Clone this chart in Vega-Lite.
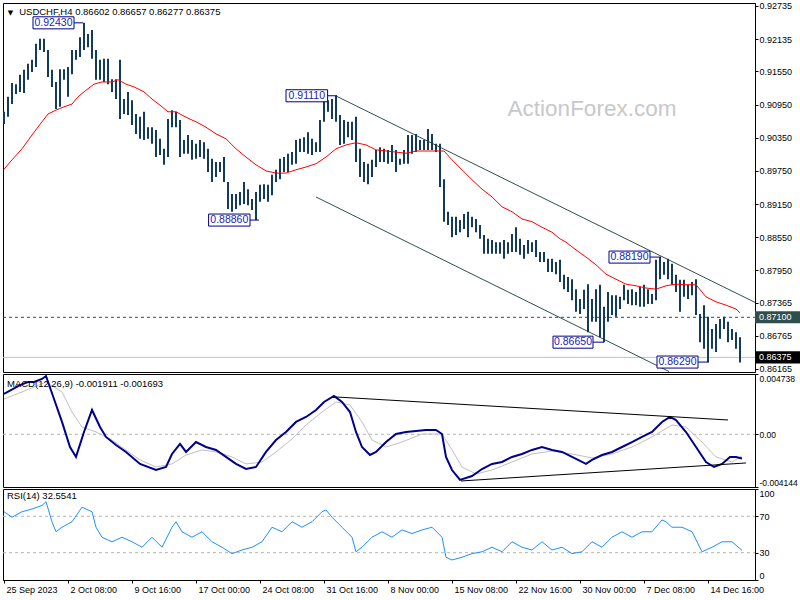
{
"$schema": "https://vega.github.io/schema/vega-lite/v6.json",
"background": "white",
"padding": {"left": -1, "top": 1, "right": 0, "bottom": 0},
"spacing": 2,
"bounds": "flush",
"config": {
  "view": {"stroke": "#000000", "strokeWidth": 1},
  "axis": {"labelFont": "Liberation Sans", "labelFontSize": 9, "labelColor": "#000000", "domainColor": "#000000", "tickColor": "#000000", "tickSize": 3, "grid": false, "labelPadding": 1},
  "text": {"font": "Liberation Sans"}
},
"datasets": {
"bars": [
{"i":0,"p":0.9082,"p2":0.9060},{"i":2,"p":0.9109,"p2":0.9073},{"i":4,"p":0.9134,"p2":0.9096},{"i":6,"p":0.9132,"p2":0.9114},{"i":8,"p":0.9149,"p2":0.9118},{"i":10,"p":0.9158,"p2":0.9116},{"i":12,"p":0.9169,"p2":0.9140},{"i":14,"p":0.9176,"p2":0.9154},{"i":16,"p":0.9205,"p2":0.9163},{"i":18,"p":0.9214,"p2":0.9194},
{"i":20,"p":0.9214,"p2":0.9190},{"i":22,"p":0.9194,"p2":0.9145},{"i":24,"p":0.9158,"p2":0.9127},{"i":26,"p":0.9136,"p2":0.9087},{"i":28,"p":0.9159,"p2":0.9091},{"i":30,"p":0.9159,"p2":0.9140},{"i":32,"p":0.9163,"p2":0.9109},{"i":34,"p":0.9194,"p2":0.9150},{"i":36,"p":0.9194,"p2":0.9176},{"i":38,"p":0.9217,"p2":0.9181},
{"i":40,"p":0.9243,"p2":0.9194},{"i":42,"p":0.9223,"p2":0.9199},{"i":44,"p":0.9230,"p2":0.9178},{"i":46,"p":0.9194,"p2":0.9140},{"i":48,"p":0.9176,"p2":0.9140},{"i":50,"p":0.9178,"p2":0.9136},{"i":52,"p":0.9178,"p2":0.9132},{"i":54,"p":0.9141,"p2":0.9118},{"i":56,"p":0.9141,"p2":0.9105},{"i":58,"p":0.9176,"p2":0.9069},
{"i":60,"p":0.9105,"p2":0.9078},{"i":62,"p":0.9118,"p2":0.9076},{"i":64,"p":0.9103,"p2":0.9058},{"i":66,"p":0.9078,"p2":0.9042},{"i":68,"p":0.9073,"p2":0.9033},{"i":70,"p":0.9082,"p2":0.9031},{"i":72,"p":0.9054,"p2":0.9033},{"i":74,"p":0.9054,"p2":0.9024},{"i":76,"p":0.9049,"p2":0.9000},{"i":78,"p":0.9033,"p2":0.9004},
{"i":80,"p":0.9015,"p2":0.8986},{"i":82,"p":0.9069,"p2":0.9000},{"i":84,"p":0.9085,"p2":0.9054},{"i":86,"p":0.9082,"p2":0.9054},{"i":88,"p":0.9067,"p2":0.9000},{"i":90,"p":0.9031,"p2":0.9006},{"i":92,"p":0.9040,"p2":0.9006},{"i":94,"p":0.9031,"p2":0.8995},{"i":96,"p":0.9024,"p2":0.8997},{"i":98,"p":0.9031,"p2":0.9000},
{"i":100,"p":0.9027,"p2":0.8997},{"i":102,"p":0.9015,"p2":0.8973},{"i":104,"p":0.8997,"p2":0.8955},{"i":106,"p":0.8991,"p2":0.8964},{"i":108,"p":0.8991,"p2":0.8973},{"i":110,"p":0.9000,"p2":0.8955},{"i":112,"p":0.8955,"p2":0.8906},{"i":114,"p":0.8933,"p2":0.8901},{"i":116,"p":0.8933,"p2":0.8906},{"i":118,"p":0.8937,"p2":0.8913},
{"i":120,"p":0.8955,"p2":0.8915},{"i":122,"p":0.8942,"p2":0.8913},{"i":124,"p":0.8924,"p2":0.8904},{"i":126,"p":0.8937,"p2":0.8886},{"i":128,"p":0.8950,"p2":0.8919},{"i":130,"p":0.8951,"p2":0.8924},{"i":132,"p":0.8950,"p2":0.8919},{"i":134,"p":0.8968,"p2":0.8931},{"i":136,"p":0.8977,"p2":0.8955},{"i":138,"p":0.8997,"p2":0.8960},
{"i":140,"p":0.9000,"p2":0.8973},{"i":142,"p":0.9006,"p2":0.8973},{"i":144,"p":0.9009,"p2":0.8986},{"i":146,"p":0.9031,"p2":0.8988},{"i":148,"p":0.9033,"p2":0.9009},{"i":150,"p":0.9036,"p2":0.9009},{"i":152,"p":0.9045,"p2":0.9006},{"i":154,"p":0.9033,"p2":0.9004},{"i":156,"p":0.9027,"p2":0.9009},{"i":158,"p":0.9067,"p2":0.9009},
{"i":160,"p":0.9109,"p2":0.9064},{"i":162,"p":0.9103,"p2":0.9082},{"i":164,"p":0.9105,"p2":0.9069},{"i":166,"p":0.9111,"p2":0.9064},{"i":168,"p":0.9076,"p2":0.9022},{"i":170,"p":0.9067,"p2":0.9024},{"i":172,"p":0.9064,"p2":0.9036},{"i":174,"p":0.9064,"p2":0.9031},{"i":176,"p":0.9073,"p2":0.8991},{"i":178,"p":0.9015,"p2":0.8964},
{"i":180,"p":0.8991,"p2":0.8955},{"i":182,"p":0.8988,"p2":0.8951},{"i":184,"p":0.8995,"p2":0.8964},{"i":186,"p":0.9013,"p2":0.8982},{"i":188,"p":0.9018,"p2":0.8991},{"i":190,"p":0.9015,"p2":0.8991},{"i":192,"p":0.9013,"p2":0.8988},{"i":194,"p":0.9022,"p2":0.8991},{"i":196,"p":0.9013,"p2":0.8973},{"i":198,"p":0.8997,"p2":0.8986},
{"i":200,"p":0.9013,"p2":0.8988},{"i":202,"p":0.9040,"p2":0.8988},{"i":204,"p":0.9040,"p2":0.9006},{"i":206,"p":0.9042,"p2":0.9009},{"i":208,"p":0.9031,"p2":0.9013},{"i":210,"p":0.9031,"p2":0.9013},{"i":212,"p":0.9051,"p2":0.9013},{"i":214,"p":0.9042,"p2":0.9013},{"i":216,"p":0.9024,"p2":0.9009},{"i":218,"p":0.9024,"p2":0.8946},
{"i":220,"p":0.8960,"p2":0.8883},{"i":222,"p":0.8901,"p2":0.8877},{"i":224,"p":0.8892,"p2":0.8855},{"i":226,"p":0.8892,"p2":0.8859},{"i":228,"p":0.8886,"p2":0.8864},{"i":230,"p":0.8897,"p2":0.8870},{"i":232,"p":0.8901,"p2":0.8855},{"i":234,"p":0.8892,"p2":0.8873},{"i":236,"p":0.8888,"p2":0.8864},{"i":238,"p":0.8877,"p2":0.8852},
{"i":240,"p":0.8859,"p2":0.8825},{"i":242,"p":0.8852,"p2":0.8825},{"i":244,"p":0.8850,"p2":0.8825},{"i":246,"p":0.8846,"p2":0.8825},{"i":248,"p":0.8846,"p2":0.8825},{"i":250,"p":0.8850,"p2":0.8816},{"i":252,"p":0.8846,"p2":0.8825},{"i":254,"p":0.8861,"p2":0.8828},{"i":256,"p":0.8873,"p2":0.8828},{"i":258,"p":0.8852,"p2":0.8823},
{"i":260,"p":0.8841,"p2":0.8816},{"i":262,"p":0.8850,"p2":0.8825},{"i":264,"p":0.8846,"p2":0.8828},{"i":266,"p":0.8850,"p2":0.8819},{"i":268,"p":0.8828,"p2":0.8810},{"i":270,"p":0.8828,"p2":0.8810},{"i":272,"p":0.8816,"p2":0.8792},{"i":274,"p":0.8816,"p2":0.8792},{"i":276,"p":0.8810,"p2":0.8788},{"i":278,"p":0.8814,"p2":0.8774},
{"i":280,"p":0.8787,"p2":0.8761},{"i":282,"p":0.8783,"p2":0.8756},{"i":284,"p":0.8779,"p2":0.8741},{"i":286,"p":0.8761,"p2":0.8720},{"i":288,"p":0.8743,"p2":0.8716},{"i":290,"p":0.8760,"p2":0.8725},{"i":292,"p":0.8770,"p2":0.8683},{"i":294,"p":0.8743,"p2":0.8702},{"i":296,"p":0.8761,"p2":0.8702},{"i":298,"p":0.8769,"p2":0.8674},
{"i":300,"p":0.8729,"p2":0.8665},{"i":302,"p":0.8756,"p2":0.8702},{"i":304,"p":0.8750,"p2":0.8714},{"i":306,"p":0.8750,"p2":0.8711},{"i":308,"p":0.8747,"p2":0.8725},{"i":310,"p":0.8769,"p2":0.8741},{"i":312,"p":0.8760,"p2":0.8734},{"i":314,"p":0.8761,"p2":0.8732},{"i":316,"p":0.8756,"p2":0.8732},{"i":318,"p":0.8765,"p2":0.8729},
{"i":320,"p":0.8769,"p2":0.8729},{"i":322,"p":0.8761,"p2":0.8734},{"i":324,"p":0.8752,"p2":0.8734},{"i":326,"p":0.8814,"p2":0.8741},{"i":328,"p":0.8819,"p2":0.8779},{"i":330,"p":0.8810,"p2":0.8787},{"i":332,"p":0.8816,"p2":0.8779},{"i":334,"p":0.8807,"p2":0.8769},{"i":336,"p":0.8787,"p2":0.8756},{"i":338,"p":0.8778,"p2":0.8720},
{"i":340,"p":0.8778,"p2":0.8747},{"i":342,"p":0.8769,"p2":0.8743},{"i":344,"p":0.8774,"p2":0.8750},{"i":346,"p":0.8779,"p2":0.8714},{"i":348,"p":0.8716,"p2":0.8665},{"i":350,"p":0.8732,"p2":0.8653},{"i":352,"p":0.8711,"p2":0.8629},{"i":354,"p":0.8689,"p2":0.8653},{"i":356,"p":0.8698,"p2":0.8647},{"i":358,"p":0.8707,"p2":0.8671},
{"i":360,"p":0.8711,"p2":0.8689},{"i":362,"p":0.8702,"p2":0.8665},{"i":364,"p":0.8689,"p2":0.8669},{"i":366,"p":0.8683,"p2":0.8653},{"i":368,"p":0.8674,"p2":0.8628}
],
"ma": [
{"i":0,"p":0.8978},{"i":4,"p":0.8995},{"i":9,"p":0.9015},{"i":14,"p":0.904},{"i":19,"p":0.9064},{"i":22,"p":0.9078},{"i":26,"p":0.9085},{"i":30,"p":0.9091},{"i":34,"p":0.9096},{"i":37,"p":0.9109},{"i":41,"p":0.9121},{"i":45,"p":0.9132},{"i":49,"p":0.9136},{"i":54,"p":0.9136},{"i":57,"p":0.914},{"i":61,"p":0.9132},{"i":65,"p":0.9127},{"i":70,"p":0.9118},{"i":74,"p":0.9105},{"i":78,"p":0.9094},{"i":82,"p":0.9082},{"i":86,"p":0.9082},{"i":90,"p":0.9074},{"i":94,"p":0.9067},{"i":96,"p":0.9064},{"i":101,"p":0.9054},{"i":106,"p":0.9042},{"i":111,"p":0.9033},{"i":116,"p":0.9015},{"i":121,"p":0.9},{"i":126,"p":0.8986},{"i":131,"p":0.8975},{"i":136,"p":0.8971},{"i":141,"p":0.8971},{"i":146,"p":0.8977},{"i":151,"p":0.8982},{"i":156,"p":0.8988},{"i":161,"p":0.9},{"i":166,"p":0.9015},{"i":171,"p":0.9022},{"i":176,"p":0.9026},{"i":181,"p":0.9022},{"i":186,"p":0.9013},{"i":191,"p":0.9011},{"i":196,"p":0.9009},{"i":201,"p":0.9007},{"i":206,"p":0.9011},{"i":211,"p":0.9011},{"i":216,"p":0.9011},{"i":220,"p":0.9011},{"i":224,"p":0.8995},{"i":229,"p":0.8977},{"i":234,"p":0.8959},{"i":239,"p":0.8942},{"i":244,"p":0.8928},{"i":249,"p":0.891},{"i":254,"p":0.8901},{"i":259,"p":0.8888},{"i":264,"p":0.8883},{"i":269,"p":0.8873},{"i":274,"p":0.8864},{"i":278,"p":0.8852},{"i":281,"p":0.8846},{"i":286,"p":0.8832},{"i":291,"p":0.8819},{"i":296,"p":0.8805},{"i":301,"p":0.8788},{"i":306,"p":0.8779},{"i":311,"p":0.877},{"i":316,"p":0.8767},{"i":321,"p":0.8763},{"i":326,"p":0.8761},{"i":331,"p":0.8767},{"i":336,"p":0.877},{"i":341,"p":0.8769},{"i":346,"p":0.8769},{"i":351,"p":0.8747},{"i":356,"p":0.8738},{"i":361,"p":0.8732},{"i":366,"p":0.8725},{"i":368,"p":0.8718}
],
"macd": [
{"i":0,"v":0.00317},{"i":8,"v":0.00387},{"i":12,"v":0.00411},{"i":15,"v":0.00411},{"i":19,"v":0.00435},{"i":21,"v":0.00458},{"i":25,"v":0.00277},{"i":29,"v":0.00097},{"i":33,"v":-0.001},{"i":36,"v":-0.00178},{"i":40,"v":0.00018},{"i":44,"v":0.00191},{"i":48,"v":0.00057},{"i":51,"v":-0.00021},{"i":56,"v":-0.00084},{"i":61,"v":-0.00139},{"i":68,"v":-0.00233},{"i":76,"v":-0.00281},{"i":81,"v":-0.00257},{"i":84,"v":-0.00155},{"i":88,"v":-0.00076},{"i":91,"v":-0.00139},{"i":96,"v":-0.00061},{"i":101,"v":-0.001},{"i":106,"v":-0.00123},{"i":111,"v":-0.00178},{"i":116,"v":-0.00233},{"i":121,"v":-0.00273},{"i":126,"v":-0.00257},{"i":131,"v":-0.00139},{"i":136,"v":-0.00045},{"i":141,"v":0.00018},{"i":146,"v":0.00097},{"i":151,"v":0.00136},{"i":156,"v":0.00191},{"i":160,"v":0.00254},{"i":165,"v":0.00301},{"i":169,"v":0.00254},{"i":173,"v":0.00175},{"i":176,"v":0.00018},{"i":179,"v":-0.001},{"i":183,"v":-0.00163},{"i":186,"v":-0.00139},{"i":191,"v":-0.00061},{"i":196,"v":0.00002},{"i":201,"v":0.00018},{"i":211,"v":0.00034},{"i":216,"v":0.00034},{"i":219,"v":0.00002},{"i":221,"v":-0.00178},{"i":224,"v":-0.00281},{"i":228,"v":-0.00359},{"i":234,"v":-0.00328},{"i":239,"v":-0.00273},{"i":244,"v":-0.00233},{"i":249,"v":-0.00218},{"i":254,"v":-0.00178},{"i":259,"v":-0.00155},{"i":264,"v":-0.00123},{"i":269,"v":-0.001},{"i":274,"v":-0.00123},{"i":279,"v":-0.00139},{"i":284,"v":-0.00178},{"i":291,"v":-0.00233},{"i":294,"v":-0.00202},{"i":299,"v":-0.00163},{"i":304,"v":-0.00139},{"i":309,"v":-0.001},{"i":314,"v":-0.00061},{"i":319,"v":-0.00021},{"i":324,"v":0.00018},{"i":329,"v":0.00097},{"i":333,"v":0.00136},{"i":336,"v":0.00112},{"i":341,"v":0.00018},{"i":346,"v":-0.001},{"i":351,"v":-0.00218},{"i":355,"v":-0.00257},{"i":359,"v":-0.00233},{"i":363,"v":-0.00178},{"i":366,"v":-0.00178},{"i":369,"v":-0.00191}
],
"sig": [
{"i":0,"v":0.00277},{"i":14,"v":0.00364},{"i":21,"v":0.00411},{"i":29,"v":0.00332},{"i":34,"v":0.00175},{"i":39,"v":0.00057},{"i":46,"v":0.00018},{"i":54,"v":-0.00045},{"i":61,"v":-0.00123},{"i":68,"v":-0.00202},{"i":76,"v":-0.00257},{"i":84,"v":-0.00233},{"i":91,"v":-0.00163},{"i":99,"v":-0.00123},{"i":106,"v":-0.00139},{"i":114,"v":-0.00178},{"i":121,"v":-0.00233},{"i":129,"v":-0.00218},{"i":136,"v":-0.00139},{"i":144,"v":-0.00037},{"i":151,"v":0.00073},{"i":159,"v":0.00175},{"i":166,"v":0.00254},{"i":173,"v":0.0023},{"i":179,"v":0.00097},{"i":184,"v":-0.00045},{"i":191,"v":-0.001},{"i":199,"v":-0.00061},{"i":209,"v":0.00002},{"i":219,"v":0.00002},{"i":224,"v":-0.00123},{"i":229,"v":-0.00257},{"i":236,"v":-0.00312},{"i":244,"v":-0.00281},{"i":254,"v":-0.00218},{"i":264,"v":-0.00155},{"i":274,"v":-0.00131},{"i":284,"v":-0.00155},{"i":294,"v":-0.00186},{"i":304,"v":-0.00155},{"i":314,"v":-0.001},{"i":324,"v":-0.00021},{"i":334,"v":0.00073},{"i":341,"v":0.00057},{"i":349,"v":-0.00061},{"i":356,"v":-0.00178},{"i":364,"v":-0.00218},{"i":369,"v":-0.00169}
],
"rsi": [
{"i":0,"r":75},{"i":4,"r":69},{"i":9,"r":75},{"i":14,"r":78},{"i":19,"r":82},{"i":21,"r":86},{"i":24,"r":64},{"i":26,"r":53},{"i":29,"r":58},{"i":34,"r":64},{"i":39,"r":80},{"i":44,"r":75},{"i":46,"r":58},{"i":49,"r":47},{"i":54,"r":42},{"i":59,"r":47},{"i":64,"r":42},{"i":69,"r":36},{"i":74,"r":47},{"i":79,"r":36},{"i":84,"r":58},{"i":86,"r":64},{"i":89,"r":53},{"i":94,"r":47},{"i":99,"r":53},{"i":104,"r":42},{"i":109,"r":36},{"i":114,"r":29},{"i":119,"r":33},{"i":124,"r":36},{"i":129,"r":42},{"i":134,"r":58},{"i":139,"r":53},{"i":144,"r":64},{"i":149,"r":58},{"i":154,"r":64},{"i":159,"r":75},{"i":161,"r":77},{"i":164,"r":69},{"i":169,"r":58},{"i":174,"r":47},{"i":176,"r":31},{"i":179,"r":36},{"i":184,"r":47},{"i":189,"r":53},{"i":194,"r":47},{"i":199,"r":55},{"i":204,"r":51},{"i":209,"r":55},{"i":214,"r":58},{"i":219,"r":47},{"i":221,"r":25},{"i":224,"r":22},{"i":229,"r":25},{"i":234,"r":29},{"i":239,"r":31},{"i":244,"r":36},{"i":249,"r":31},{"i":254,"r":42},{"i":259,"r":36},{"i":264,"r":33},{"i":269,"r":42},{"i":274,"r":33},{"i":279,"r":36},{"i":284,"r":29},{"i":289,"r":31},{"i":294,"r":42},{"i":299,"r":36},{"i":304,"r":47},{"i":309,"r":53},{"i":314,"r":47},{"i":319,"r":53},{"i":324,"r":53},{"i":329,"r":66},{"i":331,"r":64},{"i":334,"r":58},{"i":339,"r":58},{"i":344,"r":53},{"i":349,"r":31},{"i":351,"r":33},{"i":354,"r":36},{"i":359,"r":42},{"i":364,"r":42},{"i":369,"r":32.55}
]
},
"vconcat": [
{
  "width": 752, "height": 369,
  "encoding": {
    "x": {"field": "i", "type": "quantitative", "scale": {"domain": [-0.5, 375.5], "nice": false, "zero": false}, "axis": null},
    "y": {"field": "p", "type": "quantitative", "scale": {"domain": [0.8611, 0.92789], "nice": false, "zero": false},
          "axis": {"orient": "right", "title": null, "values": [0.92735, 0.92135, 0.9155, 0.9095, 0.9035, 0.8975, 0.8915, 0.8855, 0.8795, 0.87365, 0.86765, 0.86165], "format": ".5f", "labelFlush": false}}
  },
  "layer": [
    {"data": {"values": [{"i": -0.5, "i2": 375.5, "p": 0.86375}]}, "mark": {"type": "rule", "color": "#c0c0c0", "strokeWidth": 1}, "encoding": {"x2": {"field": "i2"}}},
    {"data": {"values": [{"i": -0.5, "i2": 375.5, "p": 0.871}]}, "mark": {"type": "rule", "color": "#2f4f4f", "strokeWidth": 1, "strokeDash": [3, 3]}, "encoding": {"x2": {"field": "i2"}}},
    {"data": {"values": [{"i": 294, "p": 0.9087, "t": "ActionForex.com"}]}, "mark": {"type": "text", "font": "Liberation Sans", "fontSize": 22.5, "color": "#c8c8c8", "align": "center", "baseline": "middle"}, "encoding": {"text": {"field": "t"}}},
    {"data": {"values": [{"i": 166, "p": 0.91106, "i2": 375.5, "p2": 0.8737}, {"i": 156, "p": 0.89278, "i2": 332.5, "p2": 0.86119}]}, "mark": {"type": "rule", "color": "#2f4f4f", "strokeWidth": 1}, "encoding": {"x2": {"field": "i2"}, "y2": {"field": "p2"}}},
    {"data": {"name": "bars"}, "mark": {"type": "rule", "color": "#143c5a", "strokeWidth": 2}, "encoding": {"y2": {"field": "p2"}}},
    {"data": {"name": "ma"}, "mark": {"type": "line", "color": "#ff0000", "strokeWidth": 1}},
    {"data": {"values": [{"i": 35, "i2": 39.5, "p": 0.9243}, {"i": 161.8, "i2": 166.5, "p": 0.9111}, {"i": 123, "i2": 127.5, "p": 0.8886}, {"i": 323, "i2": 328.5, "p": 0.8819}, {"i": 294.5, "i2": 300, "p": 0.8665}, {"i": 347, "i2": 352.5, "p": 0.8629}]}, "mark": {"type": "rule", "color": "#00008b", "strokeWidth": 1}, "encoding": {"x2": {"field": "i2"}}},
    {"data": {"values": [{"i": 14.5, "i2": 35, "p": 0.92539, "p2": 0.92321}, {"i": 141, "i2": 161.8, "p": 0.91219, "p2": 0.91001}, {"i": 102.3, "i2": 123, "p": 0.88969, "p2": 0.88751}, {"i": 302.5, "i2": 323, "p": 0.88299, "p2": 0.88081}, {"i": 274.5, "i2": 294.5, "p": 0.86759, "p2": 0.86541}, {"i": 326.5, "i2": 347, "p": 0.86399, "p2": 0.86181}]}, "mark": {"type": "rect", "fill": "#ffffff", "stroke": "#00008b", "strokeWidth": 1}, "encoding": {"x2": {"field": "i2"}, "y2": {"field": "p2"}}},
    {"data": {"values": [{"i": 24.75, "p": 0.9243, "t": "0.92430"}, {"i": 151.4, "p": 0.9111, "t": "0.91110"}, {"i": 112.65, "p": 0.8886, "t": "0.88860"}, {"i": 312.75, "p": 0.8819, "t": "0.88190"}, {"i": 284.5, "p": 0.8665, "t": "0.86650"}, {"i": 336.75, "p": 0.8629, "t": "0.86290"}]}, "mark": {"type": "text", "fontSize": 10.5, "color": "#1c1cb0", "align": "center", "baseline": "middle"}, "encoding": {"text": {"field": "t"}}},
    {"data": {"values": [{"i": 375.5, "i2": 398.5, "p": 0.87209, "p2": 0.86991, "k": "a"}, {"i": 375.5, "i2": 398.5, "p": 0.86484, "p2": 0.86266, "k": "b"}]}, "mark": {"type": "rect", "clip": false}, "encoding": {"x2": {"field": "i2"}, "y2": {"field": "p2"}, "color": {"field": "k", "type": "nominal", "scale": {"domain": ["a", "b"], "range": ["#2f4f4f", "#000000"]}, "legend": null}}},
    {"data": {"values": [{"i": 377.5, "p": 0.871, "t": "0.87100"}, {"i": 377.5, "p": 0.86375, "t": "0.86375"}]}, "mark": {"type": "text", "clip": false, "fontSize": 9, "color": "#ffffff", "align": "left", "baseline": "middle"}, "encoding": {"text": {"field": "t"}}},
    {"data": {"values": [{"i": 3.25, "p": 0.92608, "t": "▼"}]}, "mark": {"type": "text", "font": "DejaVu Sans", "fontSize": 7, "color": "#000000", "align": "center", "baseline": "middle"}, "encoding": {"text": {"field": "t"}}},
    {"data": {"values": [{"i": 7.6, "p": 0.92626, "t": "USDCHF,H4  0.86602 0.86657 0.86277 0.86375"}]}, "mark": {"type": "text", "fontSize": 9.5, "color": "#000000", "align": "left", "baseline": "middle"}, "encoding": {"text": {"field": "t"}}}
  ]
},
{
  "width": 752, "height": 113,
  "encoding": {
    "x": {"field": "i", "type": "quantitative", "scale": {"domain": [-0.5, 375.5], "nice": false, "zero": false}, "axis": null},
    "y": {"field": "v", "type": "quantitative", "scale": {"domain": [-0.004144, 0.004738], "nice": false, "zero": false},
          "axis": {"orient": "right", "title": null, "values": [0.004738, 0, -0.004144], "labelExpr": "datum.value > 0.004 ? '0.004738' : (datum.value < -0.004 ? '-0.004144' : '0.00')", "labelFlush": true, "labelFontSize": 8.5, "labelPadding": 1}}
  },
  "layer": [
    {"data": {"values": [{"i": -0.5, "i2": 375.5, "v": 0}]}, "mark": {"type": "rule", "color": "#b4b4b4", "strokeWidth": 1, "strokeDash": [3, 3]}, "encoding": {"x2": {"field": "i2"}}},
    {"data": {"name": "sig"}, "mark": {"type": "line", "color": "#c0c0c0", "strokeWidth": 1}},
    {"data": {"name": "macd"}, "mark": {"type": "line", "color": "#00008b", "strokeWidth": 2}},
    {"data": {"values": [{"i": 166, "v": 0.002932, "i2": 362, "v2": 0.001124}, {"i": 228.5, "v": -0.003671, "i2": 371, "v2": -0.002256}]}, "mark": {"type": "rule", "color": "#000000", "strokeWidth": 1}, "encoding": {"x2": {"field": "i2"}, "y2": {"field": "v2"}}},
    {"data": {"values": [{"i": 1.5, "v": 0.00395, "t": "MACD(12,26,9) -0.001911 -0.001693"}]}, "mark": {"type": "text", "fontSize": 9.5, "color": "#000000", "align": "left", "baseline": "middle"}, "encoding": {"text": {"field": "t"}}}
  ]
},
{
  "width": 752, "height": 91,
  "encoding": {
    "x": {"field": "i", "type": "quantitative", "scale": {"domain": [-0.5, 375.5], "nice": false, "zero": false},
          "axis": {"title": null, "values": [0, 32, 64, 96, 128, 160, 192, 224, 256, 288, 320, 352], "labelExpr": "['25 Sep 2023','2 Oct 08:00','9 Oct 16:00','17 Oct 00:00','24 Oct 08:00','31 Oct 16:00','8 Nov 00:00','15 Nov 08:00','22 Nov 16:00','30 Nov 00:00','7 Dec 08:00','14 Dec 16:00'][round(datum.value / 32)]", "labelAlign": "left", "labelOffset": 2, "labelFlush": false, "labelOverlap": false, "labelPadding": 2}},
    "y": {"field": "r", "type": "quantitative", "scale": {"domain": [0, 100], "nice": false, "zero": false},
          "axis": {"orient": "right", "title": null, "values": [0, 30, 70, 100], "labelFlush": true}}
  },
  "layer": [
    {"data": {"values": [{"i": -0.5, "i2": 375.5, "r": 70}, {"i": -0.5, "i2": 375.5, "r": 30}]}, "mark": {"type": "rule", "color": "#b4b4b4", "strokeWidth": 1, "strokeDash": [3, 3]}, "encoding": {"x2": {"field": "i2"}}},
    {"data": {"name": "rsi"}, "mark": {"type": "line", "color": "#1e90ff", "strokeWidth": 1}},
    {"data": {"values": [{"i": 1.5, "r": 92.3, "t": "RSI(14) 32.5541"}]}, "mark": {"type": "text", "fontSize": 9.5, "color": "#000000", "align": "left", "baseline": "middle"}, "encoding": {"text": {"field": "t"}}}
  ]
}
]
}
